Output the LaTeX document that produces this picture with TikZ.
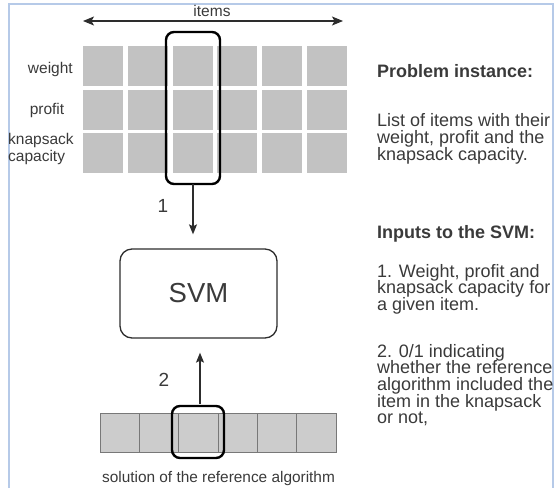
\documentclass[tikz,border=0pt]{standalone}
\usepackage{fontspec}
\setmainfont{Liberation Sans}
\usetikzlibrary{arrows.meta}
\definecolor{cellgray}{RGB}{194,194,194}
\definecolor{barfill}{RGB}{204,204,204}
\definecolor{bardraw}{RGB}{120,120,120}
\definecolor{txt}{RGB}{58,58,58}
\definecolor{frameblue}{RGB}{182,202,232}
\definecolor{boxdraw}{RGB}{45,45,45}
\tikzset{
  cell/.style={fill=cellgray,draw=none,minimum width=40pt,minimum height=40pt,inner sep=0pt,outer sep=0pt},
  barcell/.style={fill=barfill,draw=bardraw,line width=0.8pt,minimum width=39.33pt,minimum height=39pt,inner sep=0pt,outer sep=0pt},
  hilite/.style={draw=black,line width=2.4pt,rounded corners=8pt,inner sep=0pt,outer sep=0pt},
  rtext/.style={anchor=base west,inner sep=0pt,text=txt,font=\fontsize{18}{16.7}\selectfont},
  rhead/.style={rtext,font=\bfseries\fontsize{18}{16.7}\selectfont},
  ltext/.style={inner sep=0pt,text=txt,font=\fontsize{15.5}{17}\selectfont},
  arr/.style={draw=boxdraw,line width=1.2pt,-{Stealth[length=10pt,width=8pt,inset=2pt]}},
  numlbl/.style={inner sep=0pt,text=txt,font=\fontsize{19}{22}\selectfont}
}
\begin{document}
\begin{tikzpicture}[x=1pt,y=-1pt]
\useasboundingbox (0,0) rectangle (554,488);
% frame
\coordinate (fa) at (9,488);
\coordinate (fb) at (9,4);
\coordinate (fc) at (553,4);
\coordinate (fd) at (553,488);
\draw[frameblue,line width=2pt] (fa) -- (fb) -- (fc) -- (fd);

% grid of items
\foreach \i in {0,...,5}{
  \foreach \j in {0,1,2}{
    \node[cell] (c\i\j) at ({103+44.8*\i},{66+43.5*\j}) {};
  }
}
% row labels
\node[ltext,anchor=base east] (lw) at (73,73) {weight};
\node[ltext,anchor=base] (lp) at (47,114) {profit};
\node[ltext,anchor=base west] (lk) at (8,144) {knapsack};
\node[ltext,anchor=base west] (lc) at (8,161) {capacity};

% items arrow
\coordinate (ia) at (83,21);
\coordinate (ib) at (343,21);
\draw[draw=boxdraw,line width=1.2pt,{Stealth[length=11pt,width=9pt,inset=2.5pt]}-{Stealth[length=11pt,width=9pt,inset=2.5pt]}] (ia) -- (ib);
\node[ltext,anchor=base] (items) at (212,16) {items};

% highlight column
\node[hilite,minimum width=54pt,minimum height=152pt] (hl1) at (193,108) {};

% SVM box
\node[draw=boxdraw,line width=1.3pt,rounded corners=12pt,minimum width=157pt,minimum height=89pt,inner sep=0pt,text=txt,font=\fontsize{27.5}{30}\selectfont] (svm) at (198.5,293.5) {SVM};

% arrow 1
\draw[arr,shorten >=14pt] (hl1.south) -- (hl1.south |- svm.north);
\node[numlbl] (n1) at (163,206) {1};

% bottom bar
\foreach \i in {0,...,5}{
  \node[barcell] (b\i) at ({100+39.33*(\i+0.5)},432.5) {};
}
\node[hilite,minimum width=52pt,minimum height=52pt] (hl2) at (198,432) {};
\node[ltext,anchor=base,font=\fontsize{15.4}{17}\selectfont] (sol) at (218.5,482) {solution of the reference algorithm};

% arrow 2
\coordinate (a2s) at ([xshift=2pt]hl2.north);
\draw[arr,shorten >=14pt,shorten <=2pt] (a2s) -- (a2s |- svm.south);
\node[numlbl] (n2) at (164,380) {2};

% right text
\node[rhead] (h1) at (377,77) {Problem instance:};
\foreach \t/\y [count=\k] in {{List of items with their}/126,{weight, profit and the}/143,{knapsack capacity.}/160}
  \node[rtext] (pa\k) at (377,\y) {\t};
\node[rhead] (h2) at (377,238) {Inputs to the SVM:};
\foreach \t/\y [count=\k] in {{1. Weight, profit and}/277,{knapsack capacity for}/293.7,{a given item.}/310.4}
  \node[rtext] (pb\k) at (377,\y) {\t};
\foreach \t/\y [count=\k] in {{2. 0/1 indicating}/357,{whether the reference}/373.7,{algorithm included the}/390.4,{item in the knapsack}/407.1,{or not,}/423.8}
  \node[rtext] (pc\k) at (377,\y) {\t};
\end{tikzpicture}
\end{document}
